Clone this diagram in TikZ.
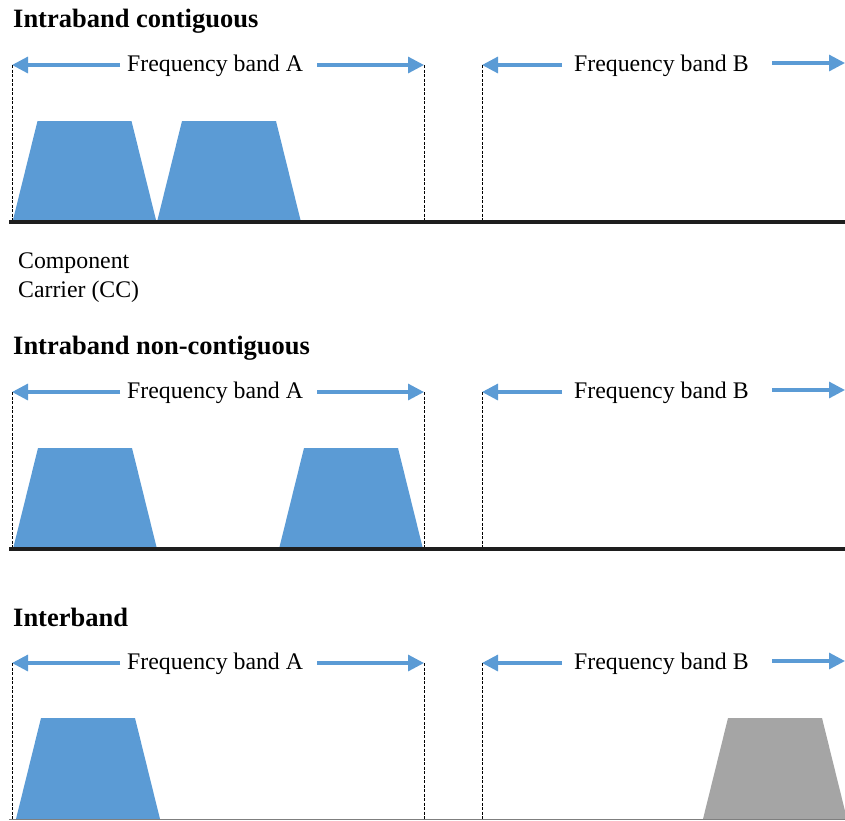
\documentclass[tikz,border=0pt]{standalone}
\usepackage{fontspec}
\setmainfont{Liberation Serif}
\usetikzlibrary{arrows.meta}

\definecolor{ccblue}{HTML}{5B9BD5}
\definecolor{ccgray}{HTML}{A5A5A5}
\definecolor{axisdark}{HTML}{1E1E1E}
\definecolor{axislight}{HTML}{7F7F7F}

\tikzset{
  bandlbl/.style={anchor=base west, inner sep=0pt, font=\fontsize{23.8}{28}\selectfont},
  titlelbl/.style={anchor=base west, inner sep=0pt, font=\fontsize{26.5}{30}\selectfont\bfseries},
  bandarrow/.style={ccblue, line width=3.2pt, -{Triangle[length=16pt,width=16pt]}},
  edgeline/.style={black, line width=0.9pt, dash pattern=on 3pt off 1.5pt},
  axisline/.style={axisdark, line width=3.1pt},
  carrierA/.style={fill=ccblue},
  carrierB/.style={fill=ccgray},
}

% One row of band markers: #1 name prefix, #2 arrow height, #3 axis height
\newcommand{\bandrow}[3]{%
  \coordinate (#1aL)  at (12,#2);
  \coordinate (#1aLs) at (120,#2);
  \coordinate (#1aRs) at (317,#2);
  \coordinate (#1aR)  at (424,#2);
  \coordinate (#1bL)  at (482,#2);
  \coordinate (#1bLs) at (562,#2);
  \coordinate (#1bRs) at (772,#2-2);
  \coordinate (#1bR)  at (845,#2-2);
  \coordinate (#1aLd) at (12,#3);
  \coordinate (#1aRd) at (424,#3);
  \coordinate (#1bLd) at (482,#3);
  \node[bandlbl] (#1labA) at (127,#2+6) {Frequency band A};
  \node[bandlbl] (#1labB) at (574,#2+6) {Frequency band B};
  \draw[bandarrow] (#1aLs) -- (#1aL);
  \draw[bandarrow] (#1aRs) -- (#1aR);
  \draw[bandarrow] (#1bLs) -- (#1bL);
  \draw[bandarrow] (#1bRs) -- (#1bR);
  \draw[edgeline] (#1aL) -- (#1aLd);
  \draw[edgeline] (#1aR) -- (#1aRd);
  \draw[edgeline] (#1bL) -- (#1bLd);
}

% Trapezoidal carrier: #1 style, #2 left foot x, #3 axis y
\newcommand{\carrier}[3]{%
  \fill[#1] (#2,#3) -- (#2+25,#3-101) -- (#2+119,#3-101) -- (#2+144,#3) -- cycle;
}

\begin{document}
\begin{tikzpicture}[x=1pt, y=-1pt]
  \useasboundingbox (0,0) rectangle (845,820);

  % Intraband contiguous
  \node[titlelbl] (t1) at (13,27) {Intraband contiguous};
  \carrier{carrierA}{12.5}{222}
  \carrier{carrierA}{157}{222}
  \bandrow{p}{65}{222}
  \coordinate (pax0) at (9,222);
  \coordinate (pax1) at (845,222);
  \draw[axisline] (pax0) -- (pax1);

  \node[bandlbl] (cc1) at (18,268) {Component};
  \node[bandlbl] (cc2) at (18,297) {Carrier (CC)};

  % Intraband non-contiguous
  \node[titlelbl] (t2) at (13,354) {Intraband non-contiguous};
  \carrier{carrierA}{13}{549}
  \carrier{carrierA}{279}{549}
  \bandrow{q}{392}{549}
  \coordinate (qax0) at (9,549);
  \coordinate (qax1) at (845,549);
  \draw[axisline] (qax0) -- (qax1);

  % Interband
  \node[titlelbl] (t3) at (13,626) {Interband};
  \carrier{carrierA}{16}{819}
  \carrier{carrierB}{703}{819}
  \bandrow{r}{663}{819}
  \coordinate (rax0) at (9,819.5);
  \coordinate (rax1) at (845,819.5);
  \draw[axislight, line width=1pt] (rax0) -- (rax1);
\end{tikzpicture}
\end{document}
